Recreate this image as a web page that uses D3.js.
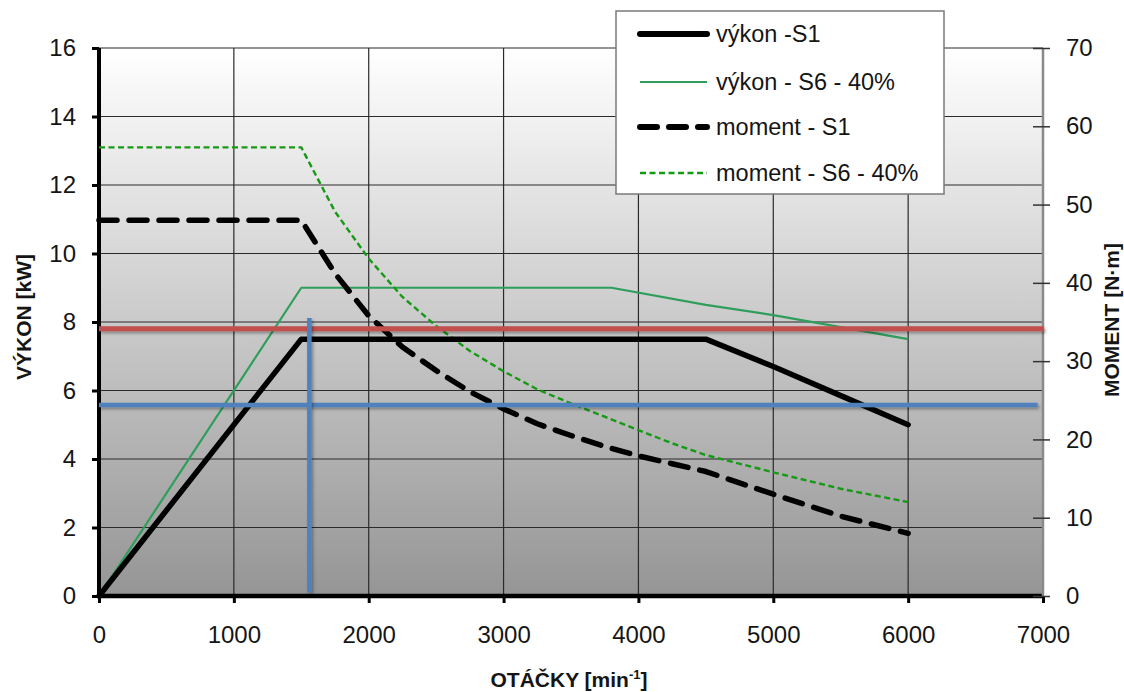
<!DOCTYPE html>
<html><head><meta charset="utf-8">
<script src="https://cdn.jsdelivr.net/npm/d3@7"></script>
<style>
html,body{margin:0;padding:0;background:#fff;}
text{font-family:"Liberation Sans",Arial,sans-serif;}
</style></head>
<body>
<svg id="chart" width="1124" height="692"></svg>
<script>
// ---- data ----
const xTicks = [0,1000,2000,3000,4000,5000,6000,7000];
const yLeftTicks = [0,2,4,6,8,10,12,14,16];
const yRightTicks = [0,10,20,30,40,50,60,70];

const powerS1_rpm = [0,1500,4500,5000,5500,6000];
const powerS1_kw  = [0,7.5,7.5,6.7,5.85,5.0];

const powerS6_rpm = [0,1500,3800,4500,5000,5500,6000];
const powerS6_kw  = [0,9.0,9.0,8.5,8.2,7.85,7.5];

const torque_rpm   = [0,500,1000,1500,1750,2000,2250,2500,2750,3000,3250,3500,3750,4000,4250,4500,5000,5500,6000];
const torqueS1_nm  = [48,48,48,48,41.2,35.8,31.8,28.8,26.1,23.9,22.0,20.5,19.1,17.9,16.9,15.9,13.0,10.2,8.0];
const torqueS6_nm  = [57.3,57.3,57.3,57.3,49.1,43.1,38.2,34.5,31.3,28.7,26.4,24.6,22.9,21.2,19.5,18.0,15.8,13.7,12.0];

const refRedKw = 7.8;          // red horizontal line
const refBlueKw = 5.58;        // blue horizontal line
const refBlueRpm = 1560;       // blue vertical line
const refBlueVertRange = [0.1, 8.12];
const refBlueHorizRange = [0, 6960];
const refRedHorizRange = [0, 7000];

const legendLabels = ["výkon -S1","výkon - S6 - 40%","moment - S1","moment - S6 - 40%"];
const xTitle = "OTÁČKY [min";
const yLeftTitle = "VÝKON [kW]";
const yRightTitle = "MOMENT [N·m]";

// ---- layout ----
const svg = d3.select("#chart");
const L = 99, R = 1043, T = 48, B = 596;
const x = d3.scaleLinear().domain([0,7000]).range([L,R]);
const yL = d3.scaleLinear().domain([0,16]).range([B,T]);
const yR = d3.scaleLinear().domain([0,70]).range([B,T]);

const defs = svg.append("defs");
const grad = defs.append("linearGradient").attr("id","bg").attr("x1",0).attr("y1",0).attr("x2",0).attr("y2",1);
grad.append("stop").attr("offset","0%").attr("stop-color","#ffffff");
grad.append("stop").attr("offset","100%").attr("stop-color","#959595");
const filt = defs.append("filter").attr("id","shadow").attr("filterUnits","userSpaceOnUse")
  .attr("x",0).attr("y",0).attr("width",1124).attr("height",692);
filt.append("feDropShadow").attr("dx",1.5).attr("dy",2).attr("stdDeviation",1.5).attr("flood-color","#000").attr("flood-opacity",0.35);

// plot background
svg.append("rect").attr("x",L).attr("y",T).attr("width",R-L).attr("height",B-T).attr("fill","url(#bg)");

// gridlines
const grid = svg.append("g").attr("stroke","#2a2a2a").attr("stroke-width",1.2);
grid.selectAll(".h").data(yLeftTicks.slice(1)).join("line")
  .attr("x1",L).attr("x2",R).attr("y1",d=>yL(d)).attr("y2",d=>yL(d));
grid.selectAll(".v").data(xTicks.slice(1,-1)).join("line")
  .attr("y1",T).attr("y2",B).attr("x1",d=>x(d)).attr("x2",d=>x(d));

// axes
const fontSize = 24;
const axL = svg.append("g").attr("transform",`translate(${L},0)`)
  .call(d3.axisLeft(yL).tickValues(yLeftTicks).tickSize(7).tickPadding(16).tickFormat(d3.format("d")));
const axB = svg.append("g").attr("transform",`translate(0,${B})`)
  .call(d3.axisBottom(x).tickValues(xTicks).tickSize(7).tickPadding(23).tickFormat(d3.format("d")));
const axR = svg.append("g").attr("transform",`translate(${R},0)`)
  .call(d3.axisRight(yR).tickValues(yRightTicks).tickSize(7).tickPadding(16).tickFormat(d3.format("d")));

[axL,axB,axR].forEach(a=>{
  a.selectAll("text").attr("font-size",fontSize).attr("fill","#151515").attr("font-family","'Liberation Sans',Arial,sans-serif");
});
axR.selectAll(".tick line").attr("x1",-10).attr("stroke","#333").attr("stroke-width",1.5);
axR.select(".domain").attr("stroke","#8a8a8a").attr("stroke-width",2.5).attr("d",`M0,${T}V${B}`);
axL.select(".domain").attr("stroke","#000").attr("stroke-width",4).attr("d",`M0,${T}V${B}`);
axL.selectAll(".tick line").attr("stroke","#000").attr("stroke-width",3);
axB.select(".domain").attr("stroke","#000").attr("stroke-width",4.5).attr("d",`M${L},0H${R}`);
axB.selectAll(".tick line").attr("stroke","#000").attr("stroke-width",3);

// series
const lineGen = (xs, ys, yScale) => d3.line().x((d,i)=>x(xs[i])).y((d,i)=>yScale(ys[i]))(ys);

svg.append("path").attr("d",lineGen(powerS6_rpm,powerS6_kw,yL))
  .attr("fill","none").attr("stroke","#2f9e5c").attr("stroke-width",2.2).attr("stroke-linejoin","round");
svg.append("path").attr("d",lineGen(torque_rpm,torqueS6_nm,yR))
  .attr("fill","none").attr("stroke","#169a16").attr("stroke-width",2.4).attr("stroke-dasharray","6,3.5");
svg.append("path").attr("d",lineGen(powerS1_rpm,powerS1_kw,yL))
  .attr("fill","none").attr("stroke","#000").attr("stroke-width",5.5).attr("stroke-linejoin","round").attr("stroke-linecap","round");
svg.append("path").attr("d",lineGen(torque_rpm,torqueS1_nm,yR))
  .attr("fill","none").attr("stroke","#000").attr("stroke-width",5.5).attr("stroke-linejoin","round")
  .attr("stroke-linecap","round").attr("stroke-dasharray","18,12");

// reference lines
svg.append("line").attr("filter","url(#shadow)")
  .attr("x1",x(refRedHorizRange[0])).attr("x2",x(refRedHorizRange[1])+1)
  .attr("y1",yL(refRedKw)).attr("y2",yL(refRedKw)).attr("stroke","#c0504d").attr("stroke-width",5);
svg.append("line").attr("filter","url(#shadow)")
  .attr("x1",x(refBlueHorizRange[0])).attr("x2",x(refBlueHorizRange[1]))
  .attr("y1",yL(refBlueKw)).attr("y2",yL(refBlueKw)).attr("stroke","#4f81bd").attr("stroke-width",4.5);
svg.append("line").attr("filter","url(#shadow)")
  .attr("x1",x(refBlueRpm)).attr("x2",x(refBlueRpm))
  .attr("y1",yL(refBlueVertRange[1])).attr("y2",yL(refBlueVertRange[0])).attr("stroke","#4f81bd").attr("stroke-width",4.5);

// legend
const lg = svg.append("g");
lg.append("rect").attr("x",616).attr("y",11).attr("width",328).attr("height",183)
  .attr("fill","#fff").attr("stroke","#7a7a7a").attr("stroke-width",1.5);
const rowY = [34,82,127,173];
const styles = [
  {stroke:"#000",w:6,dash:null,cap:"round"},
  {stroke:"#2f9e5c",w:2.2,dash:null,cap:"butt"},
  {stroke:"#000",w:6,dash:"17,12",cap:"round"},
  {stroke:"#169a16",w:2.4,dash:"6,3.5",cap:"butt"}
];
legendLabels.forEach((lab,i)=>{
  const s = styles[i];
  const ln = lg.append("line").attr("x1",640).attr("x2",707).attr("y1",rowY[i]).attr("y2",rowY[i])
    .attr("stroke",s.stroke).attr("stroke-width",s.w).attr("stroke-linecap",s.cap);
  if(s.dash) ln.attr("stroke-dasharray",s.dash);
  lg.append("text").attr("x",716).attr("y",rowY[i]).attr("dy","0.35em")
    .attr("font-size",23.5).attr("fill","#151515").text(lab);
});

// axis titles
svg.append("text").attr("transform","translate(31,317) rotate(-90)").attr("text-anchor","middle")
  .attr("font-size",21).attr("font-weight","bold").attr("fill","#151515").text(yLeftTitle);
svg.append("text").attr("transform","translate(1119,320) rotate(-90)").attr("text-anchor","middle")
  .attr("font-size",21).attr("font-weight","bold").attr("fill","#151515").text(yRightTitle);
const xt = svg.append("text").attr("x",569).attr("y",687).attr("text-anchor","middle")
  .attr("font-size",21).attr("font-weight","bold").attr("fill","#151515");
xt.append("tspan").text(xTitle);
xt.append("tspan").attr("font-size",13).attr("dy",-8).text("-1");
xt.append("tspan").attr("dy",8).text("]");
</script>
</body></html>
